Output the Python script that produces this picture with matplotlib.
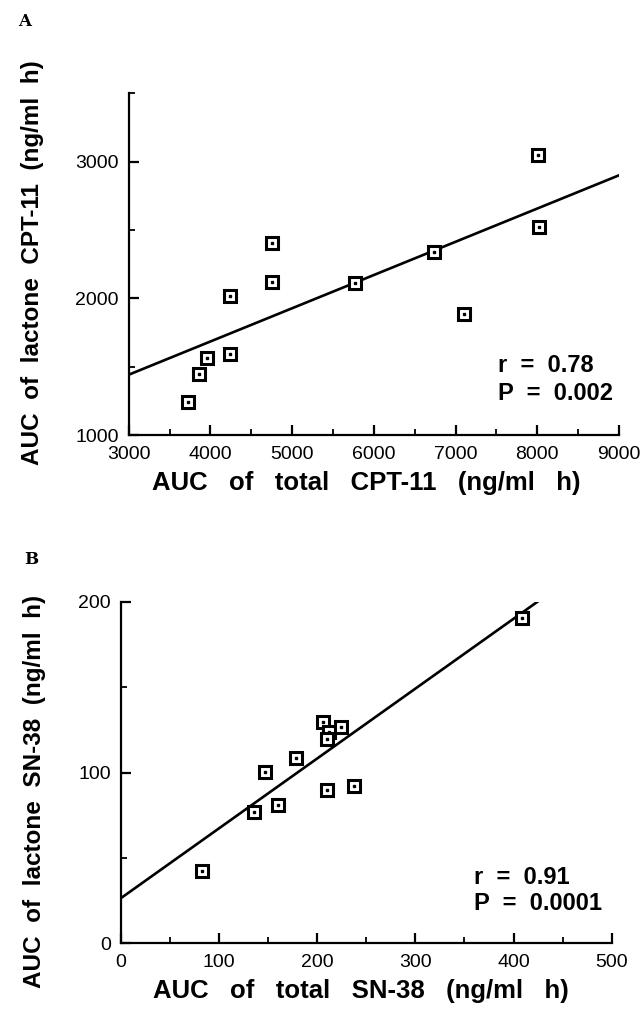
import matplotlib
matplotlib.use("Agg")
import matplotlib.pyplot as plt
from matplotlib.ticker import MultipleLocator

# Panel A data
cpt_total = [3726, 3865, 3961, 4236, 4236, 4756, 4756, 5766, 6742, 7107, 8003, 8027]
cpt_lactone = [1240, 1449, 1564, 1596, 2020, 2120, 2402, 2113, 2341, 1882, 3047, 2520]
cpt_fit_x = [3000, 9000]
cpt_fit_y = [1441, 2900]
cpt_stats = ["r  =  0.78", "P  =  0.002"]

# Panel B data
sn_total = [83.2, 135.6, 146.9, 160.6, 178.9, 206.4, 212.6, 210.1, 224.3, 210.1, 237.6, 409.1]
sn_lactone = [42.5, 76.7, 100.1, 80.8, 108.3, 129.4, 123.7, 119.6, 126.5, 89.8, 92.3, 190.3]
sn_fit_x = [0, 424.4]
sn_fit_y = [26.3, 200]
sn_stats = ["r  =  0.91", "P  =  0.0001"]

W, H = 640, 1009
fig = plt.figure(figsize=(6.4, 10.09), dpi=100)

SANS = ["Liberation Sans", "DejaVu Sans"]
TICK_SIZE = 14
XLAB_SIZE = 18.5
YLAB_SIZE = 17.5
STAT_SIZE = 17


def px(x0, y0, x1, y1):
    return [x0 / W, 1 - y1 / H, (x1 - x0) / W, (y1 - y0) / H]


def style(ax, xmaj, xmin, ymaj, ymin):
    for s in ["top", "right"]:
        ax.spines[s].set_visible(False)
    for s in ["left", "bottom"]:
        ax.spines[s].set_linewidth(1.6)
    ax.xaxis.set_major_locator(MultipleLocator(xmaj))
    ax.xaxis.set_minor_locator(MultipleLocator(xmin))
    ax.yaxis.set_major_locator(MultipleLocator(ymaj))
    ax.yaxis.set_minor_locator(MultipleLocator(ymin))
    ax.tick_params(which="major", direction="in", length=7, width=1.6)
    ax.tick_params(which="minor", direction="in", length=4, width=1.3)
    ax.tick_params(axis="x", which="major", pad=8)
    ax.tick_params(axis="y", which="major", pad=7)
    for lab in ax.get_xticklabels() + ax.get_yticklabels():
        lab.set_fontfamily(SANS)
        lab.set_fontsize(TICK_SIZE)


def scatter(ax, x, y):
    ax.plot(x, y, ls="none", marker="s", ms=8.5, mfc="white", mec="black", mew=2.2, zorder=3)
    ax.plot(x, y, ls="none", marker="s", ms=1.8, mfc="black", mec="black", zorder=4)


def flabel(x, y, s, size, rot=0):
    fig.text(x / W, 1 - y / H, s, fontsize=size, fontweight="bold", family=SANS,
             ha="center", va="center", rotation=rot)


def stats(ax, lines, x, y1, y2):
    ax.text(x, y1, lines[0], transform=ax.transAxes, fontsize=STAT_SIZE, fontweight="bold",
            family=SANS, va="center")
    ax.text(x, y2, lines[1], transform=ax.transAxes, fontsize=STAT_SIZE, fontweight="bold",
            family=SANS, va="center")


# Panel A
axA = fig.add_axes(px(128.7, 93.3, 619, 435))
axA.set_xlim(3000, 9000)
axA.set_ylim(1000, 3500)
axA.plot(cpt_fit_x, cpt_fit_y, color="black", lw=1.9, zorder=2)
scatter(axA, cpt_total, cpt_lactone)
axA.set_xticks([3000, 4000, 5000, 6000, 7000, 8000, 9000])
axA.set_yticks([1000, 2000, 3000])
style(axA, 1000, 500, 1000, 500)
flabel(366, 483, "AUC   of   total   CPT-11   (ng/ml   h)", XLAB_SIZE)
flabel(33, 263, "AUC  of  lactone  CPT-11  (ng/ml  h)", YLAB_SIZE, rot=90)
stats(axA, cpt_stats, (498 - 128.7) / 490.3, (435 - 366) / 341.7, (435 - 393) / 341.7)
fig.text(18 / W, 1 - 22 / H, "A", fontsize=12, fontweight="bold", family="DejaVu Serif",
         ha="left", va="center")

# Panel B
axB = fig.add_axes(px(120.6, 601.7, 611.8, 943.3))
axB.set_xlim(0, 500)
axB.set_ylim(0, 200)
axB.plot(sn_fit_x, sn_fit_y, color="black", lw=1.9, zorder=2)
scatter(axB, sn_total, sn_lactone)
axB.set_xticks([0, 100, 200, 300, 400, 500])
axB.set_yticks([0, 100, 200])
style(axB, 100, 50, 100, 50)
flabel(361, 991, "AUC   of   total   SN-38   (ng/ml   h)", XLAB_SIZE)
flabel(35, 791, "AUC  of  lactone  SN-38  (ng/ml  h)", YLAB_SIZE, rot=90)
stats(axB, sn_stats, (474 - 120.6) / 491.2, (943.3 - 877) / 341.6, (943.3 - 903) / 341.6)
fig.text(24.5 / W, 1 - 560 / H, "B", fontsize=12, fontweight="bold", family="DejaVu Serif",
         ha="left", va="center")

fig.savefig("out.png", dpi=100)
